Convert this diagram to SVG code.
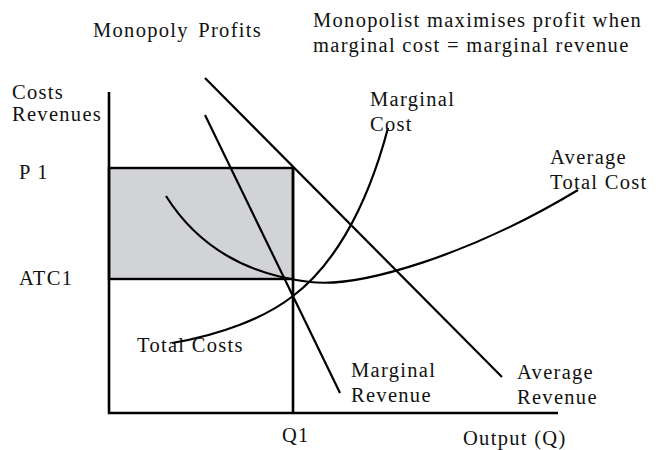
<svg xmlns="http://www.w3.org/2000/svg" width="656" height="450" viewBox="0 0 656 450">
<style>
text{font-family:"Liberation Serif","Times New Roman",serif;font-size:20.5px;fill:#111;letter-spacing:1.3px}
.ln{stroke:#000;stroke-width:2.2;fill:none}
.ax{stroke:#000;stroke-width:2.6;fill:none}
</style>
<rect width="656" height="450" fill="#fff"/>
<g id="profit-area"><rect x="109" y="168" width="184" height="111" fill="#d2d3d6" stroke="#000" stroke-width="2.4"/></g>
<g id="axes">
<path class="ax" d="M109,92 V413 H558"/>
<path class="ax" d="M293,168 V413"/>
</g>
<g id="connectors">
<path id="ar" class="ln" d="M205,78 L502,377"/>
<path id="mr" class="ln" d="M205,115 L340,393"/>
<path id="mc" class="ln" d="M172,343 C220,335 265,318 293,296 C330,268 365,215 388,128"/>
<path id="atc" class="ln" d="M166,196 C200,250 250,275 310,282 C360,288 470,255 578,190"/>
</g>
<g id="titles">
<text x="93" y="37" style="word-spacing:3px">Monopoly Profits</text>
<text x="313" y="27">Monopolist maximises profit when</text>
<text x="313" y="52">marginal cost = marginal revenue</text>
</g>
<g id="labels">
<text x="12" y="99">Costs</text>
<text x="12" y="121">Revenues</text>
<text x="19" y="179">P 1</text>
<text x="19" y="285">ATC1</text>
<text x="370" y="106">Marginal</text>
<text x="370" y="131">Cost</text>
<text x="550" y="164">Average</text>
<text x="550" y="189">Total Cost</text>
<text x="137" y="352">Total Costs</text>
<text x="351" y="377">Marginal</text>
<text x="351" y="402">Revenue</text>
<text x="517" y="379">Average</text>
<text x="517" y="404">Revenue</text>
<text x="282" y="442">Q1</text>
<text x="463" y="445">Output (Q)</text>
</g>
</svg>
